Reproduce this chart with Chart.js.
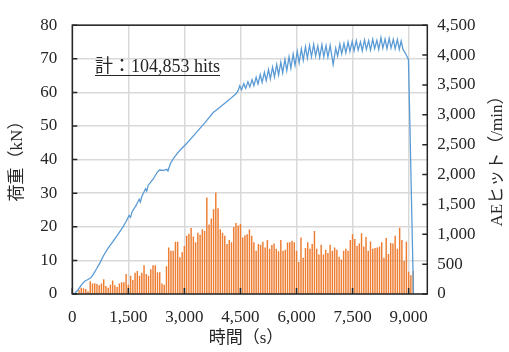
<!DOCTYPE html>
<html>
<head>
<meta charset="utf-8">
<script src="https://cdn.jsdelivr.net/npm/chart.js@4.4.0/dist/chart.umd.min.js"></script>
<style>
html, body { margin: 0; padding: 0; background: #fff; }
</style>
</head>
<body>
<canvas id="chart" width="509" height="352"></canvas>
<script>
// 荷重 (kN) vs 時間 (s)
const loadTime = [
    50, 150, 250, 330, 430, 500, 570, 650, 750, 830, 950, 1100, 1250, 1364, 1450, 1520, 1560, 1600,
    1700, 1790, 1820, 1860, 1960, 1990, 2030, 2170, 2280, 2330, 2450, 2530, 2560, 2620, 2700, 2800,
    2900, 3060, 3300, 3550, 3772, 4000, 4218, 4380, 4440,
    4480, 4530, 4590, 4640, 4700, 4750, 4810, 4860, 4920, 4970, 5030, 5080, 5140, 5190, 5250, 5300,
    5360, 5410, 5470, 5520, 5580, 5630, 5690, 5740, 5800, 5850, 5910, 5960, 6020, 6070, 6130, 6180,
    6240, 6290, 6350, 6400, 6460, 6510, 6570, 6620, 6680, 6730, 6790, 6840, 6900, 6980, 7050, 7100,
    7160, 7210, 7270, 7320, 7380, 7430, 7490, 7540, 7600, 7650, 7710, 7760, 7820, 7870, 7930, 7980,
    8040, 8090, 8150, 8200, 8260, 8310, 8370, 8420, 8480, 8530, 8590, 8640, 8700, 8750, 8800,
    8850, 8920, 8995, 9035, 9130
];
const loadKN = [
    0, 1.2, 2.8, 3.8, 4.4, 4.9, 6.0, 7.5, 9.5, 11.3, 13.5, 15.8, 18.2, 20.1, 21.8, 23.4, 22.8, 24.5,
    26.2, 28.2, 27.4, 29.0, 31.3, 30.6, 32.3, 34.3, 36.3, 36.9, 36.8, 37.1, 36.6, 38.7, 40.2, 41.7,
    43.0, 44.8, 47.8, 51.0, 54.0, 56.0, 58.0, 59.6, 60.6,
    62.0, 60.8, 62.6, 61.2, 63.2, 61.6, 63.8, 62.0, 64.5, 62.5, 65.3, 63.0, 66.0, 63.5, 66.8, 64.0,
    67.5, 64.6, 68.3, 65.2, 69.0, 65.8, 69.8, 66.5, 70.6, 67.2, 71.4, 68.0, 72.2, 68.8, 73.0, 69.6,
    73.6, 70.2, 74.0, 70.6, 74.3, 70.8, 73.8, 70.4, 74.2, 70.6, 73.9, 70.5, 74.0, 68.3, 73.2, 70.8,
    74.4, 71.5, 74.6, 71.8, 75.0, 72.2, 75.2, 72.4, 75.4, 72.6, 75.0, 72.4, 75.6, 72.8, 75.4, 72.6,
    75.8, 73.0, 75.5, 72.8, 76.3, 73.2, 75.9, 73.0, 76.1, 73.2, 75.8, 73.0, 75.7, 72.8, 75.3,
    72.8, 71.5, 69.8, 50.0, 0
];

// AEヒット (/min), one bar per minute
const BIN_SEC = 60;
const aeHits = [
    0, 0, 60, 100, 90, 80, 40, 210, 170, 175, 160, 140, 170, 240, 130, 100, 150,
    220, 140, 110, 170, 190, 190, 330, 150, 300, 230,
    350, 380, 300, 350, 475, 330, 300, 410, 475, 475,
    360, 360, 170, 150, 460, 775, 720, 720, 870, 870,
    610, 695, 800, 970, 1005, 1100, 955, 860, 1020, 985,
    1080, 1050, 1610, 1160, 1260, 1415, 1695, 1430, 1080, 1020,
    970, 830, 900, 860, 1115, 1185, 1140,
    1165, 940, 980, 995, 1075, 970, 860, 720, 830, 820, 870, 775, 900, 750, 815, 840, 750, 710,
    900, 720, 735, 855, 860, 885, 860, 720, 530, 940, 600, 765, 860, 750, 830, 1050, 750, 655,
    820, 655, 735, 680, 820, 720, 775, 735, 620, 570, 720, 750, 720, 900, 995, 915, 800, 840,
    1010, 790, 950, 720, 875, 750, 765, 775, 790, 860, 600, 930, 665, 850, 840, 970, 750, 1105,
    900, 545, 870, 365, 310, 380
];

const xTicks = [0, 1500, 3000, 4500, 6000, 7500, 9000];
const totalText = '計：104,853 hits';

const SERIF = "'Liberation Serif', 'Times New Roman', 'Noto Sans CJK JP', serif";
const TEXT = '#262626';

const loadData = loadTime.map((t, i) => ({ x: t, y: loadKN[i] }));
const aeData = aeHits.map((v, i) => ({ x: (i + 1) * BIN_SEC, y: v }));

const decor = {
    id: 'decor',
    afterDraw(chart) {
        const { ctx, chartArea: a, scales } = chart;
        ctx.save();
        // 内向き目盛
        ctx.strokeStyle = TEXT;
        ctx.lineWidth = 1.5;
        ctx.beginPath();
        scales.y.ticks.forEach(t => {
            const py = scales.y.getPixelForValue(t.value);
            ctx.moveTo(a.left, py); ctx.lineTo(a.left + 5, py);
        });
        scales.y2.ticks.forEach(t => {
            const py = scales.y2.getPixelForValue(t.value);
            ctx.moveTo(a.right - 5, py); ctx.lineTo(a.right, py);
        });
        scales.x.ticks.forEach(t => {
            const px = scales.x.getPixelForValue(t.value);
            ctx.moveTo(px, a.bottom - 6); ctx.lineTo(px, a.bottom);
        });
        ctx.stroke();
        // 枠
        ctx.strokeRect(a.left, a.top, a.right - a.left, a.bottom - a.top);

        // 軸タイトル
        ctx.fillStyle = TEXT;
        ctx.font = '17px ' + SERIF;
        ctx.textAlign = 'center';
        ctx.textBaseline = 'middle';
        ctx.fillText('時間（s）', 246, 339);
        ctx.save();
        ctx.translate(18, 157);
        ctx.rotate(-Math.PI / 2);
        ctx.fillText('荷重（kN）', 0, 0);
        ctx.restore();
        ctx.save();
        ctx.translate(498, 157);
        ctx.rotate(-Math.PI / 2);
        ctx.fillText('AEヒット（/min）', 0, 0);
        ctx.restore();

        // 合計ヒット数
        ctx.font = '18px ' + SERIF;
        ctx.textAlign = 'left';
        ctx.textBaseline = 'alphabetic';
        ctx.fillText(totalText, 95, 72);
        const w = ctx.measureText(totalText).width;
        ctx.lineWidth = 1;
        ctx.beginPath();
        ctx.moveTo(95, 75.5); ctx.lineTo(95 + w, 75.5);
        ctx.stroke();
        ctx.restore();
    }
};

new Chart(document.getElementById('chart'), {
    data: {
        datasets: [
            {
                type: 'line',
                label: '荷重',
                data: loadData,
                xAxisID: 'x',
                yAxisID: 'y',
                borderColor: '#5B9BD5',
                borderWidth: 1.3,
                pointRadius: 0,
                tension: 0,
                order: 0
            },
            {
                type: 'bar',
                label: 'AEヒット',
                data: aeData,
                xAxisID: 'x',
                yAxisID: 'y2',
                backgroundColor: '#ED7D31',
                barThickness: 0.8,
                order: 1
            }
        ]
    },
    options: {
        responsive: false,
        animation: false,
        devicePixelRatio: 1,
        layout: { padding: { top: 19.5, left: 0, right: 0, bottom: 0 } },
        plugins: { legend: { display: false }, tooltip: { enabled: false } },
        scales: {
            x: {
                type: 'linear',
                position: 'bottom',
                offset: false,
                min: 0,
                max: 9500,
                afterBuildTicks: s => { s.ticks = xTicks.map(v => ({ value: v })); },
                ticks: {
                    font: { family: SERIF, size: 17 },
                    color: TEXT,
                    padding: 13,
                    maxRotation: 0,
                    callback: v => v.toLocaleString('en-US')
                },
                grid: { color: '#d9d9d9', lineWidth: 1.5, drawTicks: false, offset: false },
                border: { display: false },
                afterFit: s => { s.height = 58; }
            },
            y: {
                position: 'left',
                min: 0,
                max: 80,
                ticks: { stepSize: 10, font: { family: SERIF, size: 17 }, color: TEXT, padding: 15 },
                grid: { color: '#d9d9d9', lineWidth: 1.5, drawTicks: false },
                border: { display: false },
                afterFit: s => { s.width = 72.3; }
            },
            y2: {
                position: 'right',
                min: 0,
                max: 4500,
                ticks: {
                    stepSize: 500,
                    font: { family: SERIF, size: 17 },
                    color: TEXT,
                    padding: 10,
                    callback: v => v.toLocaleString('en-US')
                },
                grid: { drawOnChartArea: false, drawTicks: false },
                border: { display: false },
                afterFit: s => { s.width = 81.7; }
            }
        }
    },
    plugins: [decor]
});
</script>
</body>
</html>
